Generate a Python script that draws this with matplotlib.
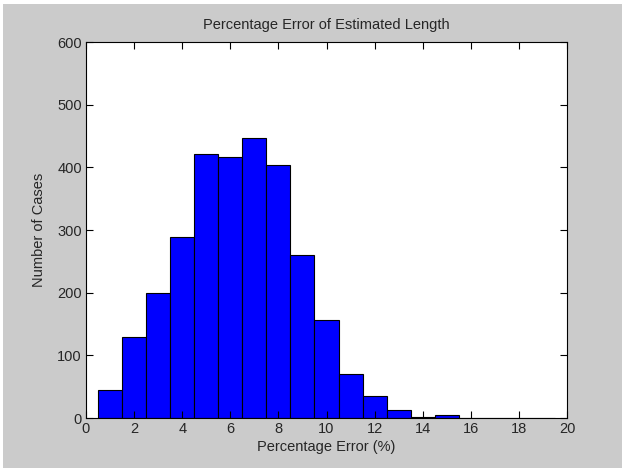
import matplotlib
matplotlib.use("Agg")
import matplotlib.pyplot as plt
from matplotlib.patches import Rectangle

bin_centers = [1, 2, 3, 4, 5, 6, 7, 8, 9, 10, 11, 12, 13, 14, 15, 16, 17, 18, 19]
counts = [44, 130, 200, 289, 422, 416, 447, 404, 260, 156, 71, 35, 12, 1, 4, 0, 0, 0, 0]
xticks = [0, 2, 4, 6, 8, 10, 12, 14, 16, 18, 20]
yticks = [0, 100, 200, 300, 400, 500, 600]

plt.rcParams['font.family'] = ['Liberation Sans', 'DejaVu Sans']

W, H = 622, 468
fig = plt.figure(figsize=(W / 100, H / 100), dpi=100)
fig.patch.set_facecolor('#cbcbcb')
# thin white strips at the top and left edges
fig.add_artist(Rectangle((0, 1 - 4 / H), 1, 4 / H, transform=fig.transFigure,
                         facecolor='white', edgecolor='none'))
fig.add_artist(Rectangle((0, 0), 3 / W, 1, transform=fig.transFigure,
                         facecolor='white', edgecolor='none'))

ax = fig.add_axes([86 / W, 1 - 418 / H, (567 - 86) / W, (418 - 42) / H])
ax.set_facecolor('white')
ax.bar(bin_centers, counts, width=1.0, color='#0000ff', edgecolor='black', linewidth=0.8)

ax.set_xlim(0, 20)
ax.set_ylim(0, 600)
ax.set_xticks(xticks)
ax.set_yticks(yticks)
ax.tick_params(direction='in', top=True, right=True, length=5, width=0.8,
               labelsize=10.5, colors='black', labelcolor='#262626', pad=3)
for s in ax.spines.values():
    s.set_linewidth(0.8)
    s.set_color('black')

ax.set_title('Percentage Error of Estimated Length', fontsize=10.5, color='#262626', pad=9)
ax.set_xlabel('Percentage Error (%)', fontsize=10.5, color='#262626', labelpad=3)
ax.set_ylabel('Number of Cases', fontsize=10.5, color='#262626', labelpad=8)

fig.savefig('out.png', dpi=100, facecolor=fig.get_facecolor())
